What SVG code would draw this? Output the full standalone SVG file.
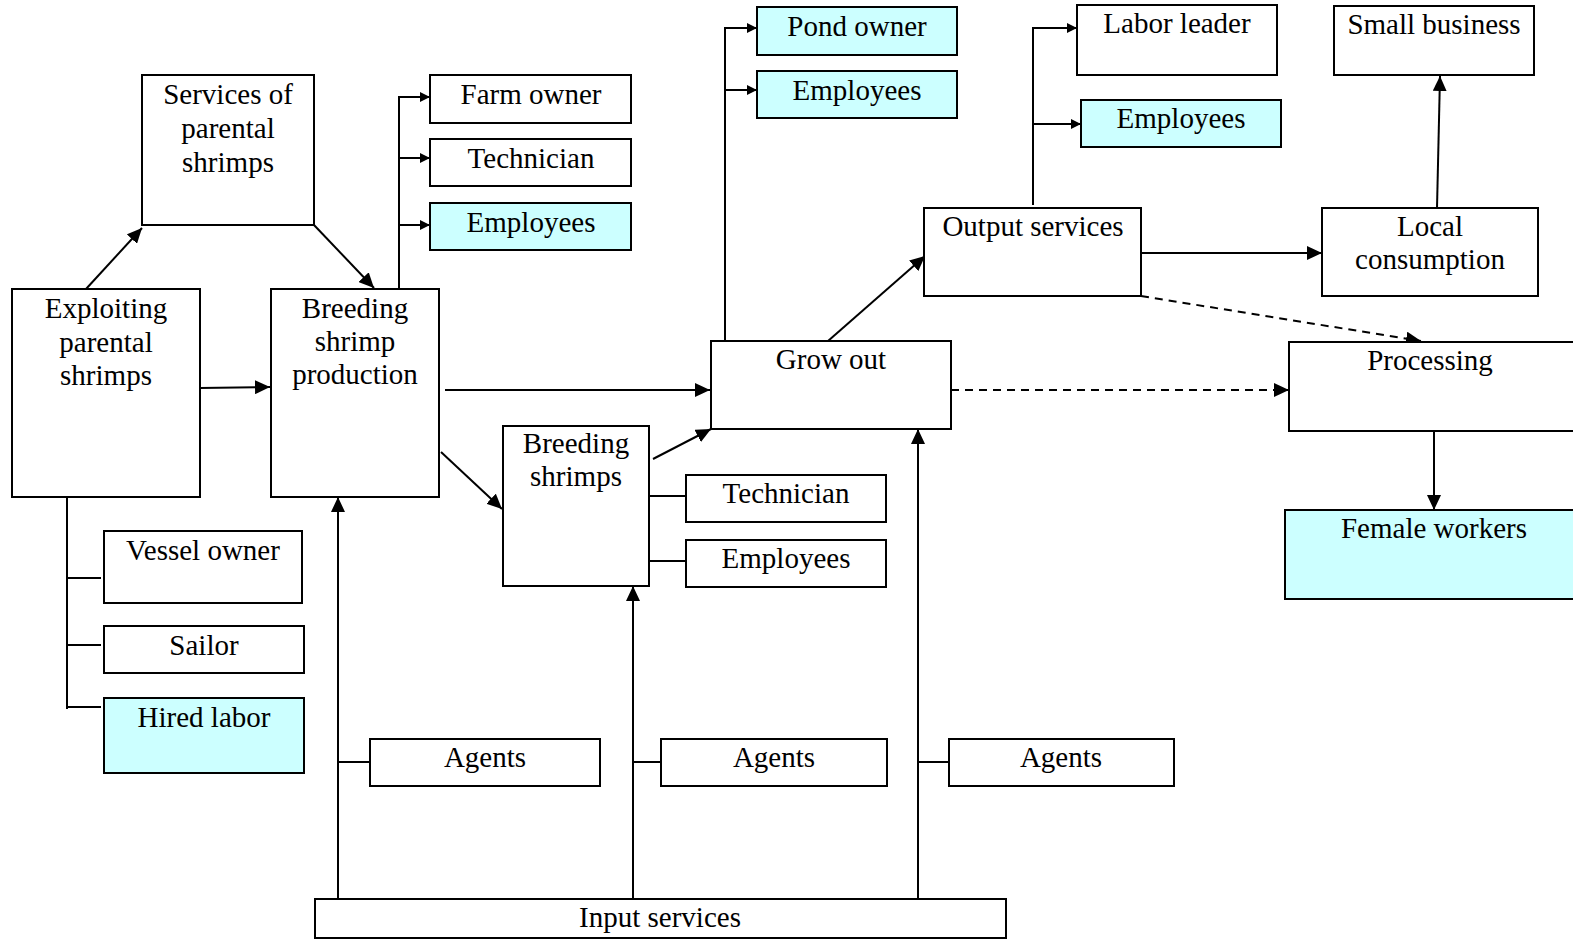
<svg xmlns="http://www.w3.org/2000/svg" width="1573" height="942" viewBox="0 0 1573 942">
<defs>
<marker id="big" markerUnits="userSpaceOnUse" markerWidth="16" markerHeight="14" refX="15" refY="7" orient="auto">
<path d="M0,0 L15,7 L0,14 z" fill="#000"/>
</marker>
<marker id="small" markerUnits="userSpaceOnUse" markerWidth="10" markerHeight="10" refX="10" refY="5" orient="auto">
<path d="M0,0 L10,5 L0,10 z" fill="#000"/>
</marker>
</defs>
<style>
rect{fill:#fff;stroke:#000;stroke-width:2}
rect.c{fill:#ccffff}
text{font-family:"Liberation Serif","Times New Roman",serif;font-size:29px;fill:#000;text-anchor:middle}
#connectors line{stroke:#000;stroke-width:2;fill:none}
#connectors .a{marker-end:url(#big)}
#connectors .s{marker-end:url(#small)}
#connectors .d{stroke-dasharray:8 6}
</style>
<rect x="0" y="0" width="1573" height="942" style="fill:#fff;stroke:none"/>
<g id="connectors">
<line class="a" x1="86" y1="289" x2="142" y2="228"/>
<line class="a" x1="314" y1="225" x2="374" y2="288"/>
<line class="a" x1="200" y1="388" x2="270" y2="387"/>
<line x1="399" y1="289" x2="399" y2="97"/>
<line class="s" x1="398" y1="97" x2="430" y2="97"/>
<line class="s" x1="398" y1="158" x2="430" y2="158"/>
<line class="s" x1="398" y1="225" x2="430" y2="225"/>
<line x1="67" y1="497" x2="67" y2="709"/>
<line x1="66" y1="578" x2="101" y2="578"/>
<line x1="66" y1="645" x2="101" y2="645"/>
<line x1="66" y1="707" x2="101" y2="707"/>
<line class="a" x1="445" y1="390" x2="710" y2="390"/>
<line class="a" x1="441" y1="452" x2="502" y2="509"/>
<line class="a" x1="653" y1="459" x2="711" y2="429"/>
<line x1="649" y1="496" x2="686" y2="496"/>
<line x1="649" y1="561" x2="686" y2="561"/>
<line x1="725" y1="341" x2="725" y2="28"/>
<line class="s" x1="724" y1="28" x2="757" y2="28"/>
<line class="s" x1="724" y1="90" x2="757" y2="90"/>
<line class="a" x1="828" y1="341" x2="925" y2="256"/>
<line x1="1033" y1="205" x2="1033" y2="28"/>
<line class="s" x1="1032" y1="28" x2="1077" y2="28"/>
<line class="s" x1="1032" y1="124" x2="1081" y2="124"/>
<line class="a" x1="1141" y1="253" x2="1322" y2="253"/>
<line class="a" x1="1437" y1="208" x2="1440" y2="76"/>
<line class="a d" x1="1141" y1="296" x2="1421" y2="341"/>
<line class="a d" x1="951" y1="390" x2="1289" y2="390"/>
<line class="a" x1="1434" y1="431" x2="1434" y2="510"/>
<line class="a" x1="338" y1="899" x2="338" y2="497"/>
<line class="a" x1="633" y1="899" x2="633" y2="586"/>
<line class="a" x1="918" y1="899" x2="918" y2="429"/>
<line x1="338" y1="762" x2="370" y2="762"/>
<line x1="633" y1="762" x2="661" y2="762"/>
<line x1="918" y1="762" x2="949" y2="762"/>
</g>
<g id="services"><rect x="142" y="75" width="172" height="150"/><text x="228" y="104">Services of</text><text x="228" y="138">parental</text><text x="228" y="172">shrimps</text></g>
<g id="exploiting"><rect x="12" y="289" width="188" height="208"/><text x="106" y="318">Exploiting</text><text x="106" y="352">parental</text><text x="106" y="385">shrimps</text></g>
<g id="breeding-production"><rect x="271" y="289" width="168" height="208"/><text x="355" y="318">Breeding</text><text x="355" y="351">shrimp</text><text x="355" y="384">production</text></g>
<g id="farm-owner"><rect x="430" y="75" width="201" height="48"/><text x="531" y="104">Farm owner</text></g>
<g id="technician-1"><rect x="430" y="139" width="201" height="47"/><text x="531" y="168">Technician</text></g>
<g id="employees-1"><rect class="c" x="430" y="203" width="201" height="47"/><text x="531" y="232">Employees</text></g>
<g id="vessel-owner"><rect x="104" y="531" width="198" height="72"/><text x="203" y="560">Vessel owner</text></g>
<g id="sailor"><rect x="104" y="626" width="200" height="47"/><text x="204" y="655">Sailor</text></g>
<g id="hired-labor"><rect class="c" x="104" y="698" width="200" height="75"/><text x="204" y="727">Hired labor</text></g>
<g id="breeding-shrimps"><rect x="503" y="426" width="146" height="160"/><text x="576" y="453">Breeding</text><text x="576" y="486">shrimps</text></g>
<g id="technician-2"><rect x="686" y="475" width="200" height="47"/><text x="786" y="503">Technician</text></g>
<g id="employees-2"><rect x="686" y="540" width="200" height="47"/><text x="786" y="568">Employees</text></g>
<g id="grow-out"><rect x="711" y="341" width="240" height="88"/><text x="831" y="369">Grow out</text></g>
<g id="pond-owner"><rect class="c" x="757" y="7" width="200" height="48"/><text x="857" y="36">Pond owner</text></g>
<g id="employees-3"><rect class="c" x="757" y="71" width="200" height="47"/><text x="857" y="100">Employees</text></g>
<g id="output-services"><rect x="924" y="208" width="217" height="88"/><text x="1033" y="236">Output services</text></g>
<g id="labor-leader"><rect x="1077" y="5" width="200" height="70"/><text x="1177" y="33">Labor leader</text></g>
<g id="employees-4"><rect class="c" x="1081" y="100" width="200" height="47"/><text x="1181" y="128">Employees</text></g>
<g id="small-business"><rect x="1334" y="6" width="200" height="69"/><text x="1434" y="34">Small business</text></g>
<g id="local-consumption"><rect x="1322" y="208" width="216" height="88"/><text x="1430" y="236">Local</text><text x="1430" y="269">consumption</text></g>
<g id="processing"><rect x="1289" y="342" width="290" height="89"/><text x="1430" y="370">Processing</text></g>
<g id="female-workers"><rect class="c" x="1285" y="510" width="295" height="89"/><text x="1434" y="538">Female workers</text></g>
<g id="input-services"><rect x="315" y="899" width="691" height="39"/><text x="660" y="927">Input services</text></g>
<g id="agents-1"><rect x="370" y="739" width="230" height="47"/><text x="485" y="767">Agents</text></g>
<g id="agents-2"><rect x="661" y="739" width="226" height="47"/><text x="774" y="767">Agents</text></g>
<g id="agents-3"><rect x="949" y="739" width="225" height="47"/><text x="1061" y="767">Agents</text></g>
</svg>
